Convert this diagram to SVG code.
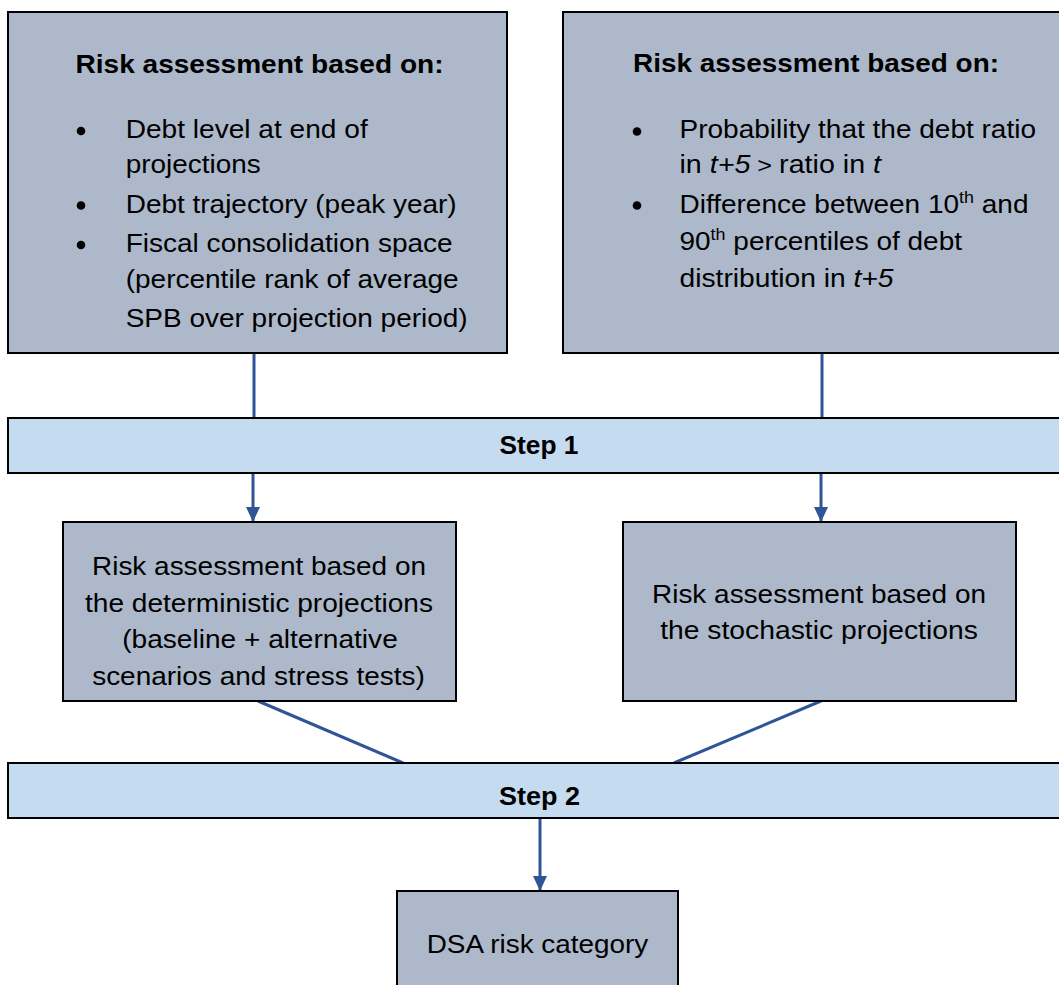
<svg xmlns="http://www.w3.org/2000/svg" width="1059" height="985" viewBox="0 0 1059 985">
  <style>
    .box { fill: #adb9ca; stroke: #000; stroke-width: 2; }
    .bar { fill: #c5dbf0; stroke: #000; stroke-width: 2; }
    .t { font-family: "Liberation Sans", Arial, sans-serif; font-size: 25px; fill: #000; }
    .b { font-weight: bold; }
    .c { text-anchor: middle; }
    .conn { stroke: #2f5597; stroke-width: 3; fill: none; }
    .sup { font-size: 16px; }
  </style>
  <defs>
    <marker id="arr" viewBox="0 0 15 14" refX="15" refY="7" markerWidth="15" markerHeight="14" markerUnits="userSpaceOnUse" orient="auto">
      <path d="M0,0 L15,7 L0,14 z" fill="#2f5597"/>
    </marker>
  </defs>
  <rect width="1059" height="985" fill="#fff"/>

  <g id="connectors">
    <path class="conn" d="M254,353 L254,418"/>
    <path class="conn" d="M822,353 L822,418"/>
    <path class="conn" d="M253,473 L253,522" marker-end="url(#arr)"/>
    <path class="conn" d="M821,473 L821,522" marker-end="url(#arr)"/>
    <path class="conn" d="M258,701 L403,763"/>
    <path class="conn" d="M821,701 L674,763"/>
    <path class="conn" d="M540,818 L540,891" marker-end="url(#arr)"/>
  </g>

  <g id="det-criteria">
    <rect class="box" x="8" y="12" width="499" height="341"/>
    <text class="t b" x="75.5" y="73" textLength="368" lengthAdjust="spacingAndGlyphs">Risk assessment based on:</text>
    <circle cx="81" cy="131" r="4.3"/>
    <circle cx="81" cy="205.5" r="4.3"/>
    <circle cx="81" cy="245" r="4.3"/>
    <text class="t" x="125.7" y="138" textLength="242" lengthAdjust="spacingAndGlyphs">Debt level at end of</text>
    <text class="t" x="125.7" y="173" textLength="135" lengthAdjust="spacingAndGlyphs">projections</text>
    <text class="t" x="125.7" y="213" textLength="331" lengthAdjust="spacingAndGlyphs">Debt trajectory (peak year)</text>
    <text class="t" x="125.7" y="252" textLength="327" lengthAdjust="spacingAndGlyphs">Fiscal consolidation space</text>
    <text class="t" x="125.7" y="288" textLength="333" lengthAdjust="spacingAndGlyphs">(percentile rank of average</text>
    <text class="t" x="125.7" y="327" textLength="342" lengthAdjust="spacingAndGlyphs">SPB over projection period)</text>
  </g>

  <g id="stoch-criteria">
    <rect class="box" x="563" y="12" width="510" height="341"/>
    <text class="t b" x="633" y="72" textLength="366" lengthAdjust="spacingAndGlyphs">Risk assessment based on:</text>
    <circle cx="637" cy="131.5" r="4.3"/>
    <circle cx="637" cy="205.5" r="4.3"/>
    <text class="t" x="679.5" y="138" textLength="356.5" lengthAdjust="spacingAndGlyphs">Probability that the debt ratio</text>
    <text class="t" x="679.5" y="173" textLength="201.5" lengthAdjust="spacingAndGlyphs">in <tspan font-style="italic">t+5</tspan><tspan font-size="22"> &gt; </tspan>ratio in <tspan font-style="italic">t</tspan></text>
    <text class="t" x="679.5" y="213" textLength="349" lengthAdjust="spacingAndGlyphs">Difference between 10<tspan class="sup" dy="-10">th</tspan><tspan dy="10"> and</tspan></text>
    <text class="t" x="679.5" y="250" textLength="282.5" lengthAdjust="spacingAndGlyphs">90<tspan class="sup" dy="-10">th</tspan><tspan dy="10"> percentiles of debt</tspan></text>
    <text class="t" x="679.5" y="287" textLength="214" lengthAdjust="spacingAndGlyphs">distribution in <tspan font-style="italic">t+5</tspan></text>
  </g>

  <g id="step1">
    <rect class="bar" x="8" y="418" width="1065" height="55"/>
    <text class="t b c" x="539" y="454" textLength="79" lengthAdjust="spacingAndGlyphs">Step 1</text>
  </g>

  <g id="det-assessment">
    <rect class="box" x="63" y="522" width="393" height="179"/>
    <text class="t c" x="259" y="575" textLength="334" lengthAdjust="spacingAndGlyphs">Risk assessment based on</text>
    <text class="t c" x="259" y="612" textLength="348" lengthAdjust="spacingAndGlyphs">the deterministic projections</text>
    <text class="t c" x="260" y="648" textLength="275.6" lengthAdjust="spacingAndGlyphs">(baseline + alternative</text>
    <text class="t c" x="258.5" y="685" textLength="332.7" lengthAdjust="spacingAndGlyphs">scenarios and stress tests)</text>
  </g>

  <g id="stoch-assessment">
    <rect class="box" x="623" y="522" width="393" height="179"/>
    <text class="t c" x="819" y="603" textLength="334" lengthAdjust="spacingAndGlyphs">Risk assessment based on</text>
    <text class="t c" x="819" y="639" textLength="317.6" lengthAdjust="spacingAndGlyphs">the stochastic projections</text>
  </g>

  <g id="step2">
    <rect class="bar" x="8" y="763" width="1065" height="55"/>
    <text class="t b c" x="539.5" y="805" textLength="81" lengthAdjust="spacingAndGlyphs">Step 2</text>
  </g>

  <g id="dsa-risk">
    <rect class="box" x="397" y="891" width="281" height="110"/>
    <text class="t c" x="537.5" y="953" textLength="221.6" lengthAdjust="spacingAndGlyphs">DSA risk category</text>
  </g>
</svg>
